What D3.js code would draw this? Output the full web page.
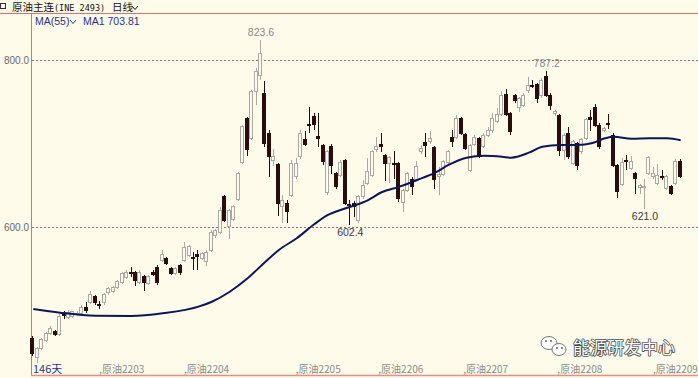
<!DOCTYPE html>
<meta charset="utf-8">
<script src="https://d3js.org/d3.v7.min.js"></script>
<style>
  body { margin: 0; background: #fefbea; }
  svg { display: block; }
</style>
<div id="chart"></div>
<script>
// 日K数据 (原油主连)
var openV = [466,444,455,464,473,475,471,497,492,493,495,497,504,510,517,507,509,521,523,528,534,540,546,545,534,541,532,546,551,560,
  562,550,544,554,560,566,564,567,562,559,572,590,594,636,601,609,633,677,730,706,762,782,760,712,680,675,624,628,638,660,
  684,705,723,732,708,698,641,696,664,662,680,627,628,608,636,652,662,693,699,686,676,676,676,629,644,657,657,690,701,702,
  695,660,663,677,707,707,730,711,668,699,706,697,710,715,726,735,759,736,757,743,746,763,770,771,757,780,758,736,733,692,
  712,676,700,690,706,731,743,722,716,724,710,674,651,680,670,664,647,648,664,660,652,660,646,648,652,679];
var highV = [469,456,467,474,481,477,496,499,501,500,499,507,510,523,519,511,521,528,529,537,546,549,552,547,548,543,543,549,554,572,
  564,552,552,556,582,579,570,572,570,572,596,598,624,638,622,626,666,722,732,764,790,823.6,775,716,693,677,638,632,680,683,
  716,715,744,736,736,700,692,700,666,680,682,632,631,638,656,683,692,708,713,688,685,691,678,646,666,660,679,698,713,715,
  697,672,680,692,716,734,732,713,700,710,708,712,720,737,742,763,765,738,759,756,760,780,776,773,779,787.2,760,740,735,712,
  720,704,702,707,731,740,747,724,720,735,712,676,683,686,685,666,652,657,685,672,675,668,662,650,682,682];
var lowV = [446,437,453,462,471,469,469,490,490,491,493,495,497,508,506,502,507,519,521,526,532,538,540,529,532,523,530,541,531,558,
  554,542,542,543,558,564,549,548,560,553,570,587,592,606,586,607,631,675,685,704,746,776,696,660,673,613,605,605,636,658,
  682,697,712,716,696,674,638,664,646,660,626,602.4,612,605,634,650,660,690,690,655,653,658,630,618,642,638,655,688,684,700,
  646,638,661,675,696,705,710,692,666,697,683,695,708,713,724,733,733,710,749,738,744,761,766,748,755,756,740,733,685,680,
  682,674,668,688,704,715,720,694,714,717,672,635,649,668,668,640,640,621.0,662,658,650,656,644,638,650,659];
var closeV = [449,455,465,472,479,471,493,494,498,499,497,504,500,519,509,506,519,526,527,535,544,546,545,536,546,533,541,543,533,567,
  556,544,550,545,576,577,562,565,568,570,594,596,620,608,620,624,664,720,693,762,786,808,700,684,684,628,632,618,676,676,
  712,699,721,723,706,678,690,674,648,677,628,626,624,636,650,666,690,696,697,676,683,675,634,644,664,648,673,694,698,706,
  657,663,678,690,702,730,712,694,698,707,685,710,715,730,735,758,735,714,751,754,758,770,768,754,775,758,746,738,692,710,
  684,702,674,705,729,729,722,696,718,723,674,642,677,679,678,658,650,649,683,664,662,659,660,640,678,661];

// MA55 读数 (K线序号, 价格)
var maIdx = [0,6,14,22,29,37,40,44,48,52,55,59,63,66,70,75,78,82,86,90,93,97,101,105,107,111,114,118,122,125,128,130,134,138,142,145];
var maVal = [501.8,497.4,493.8,493.5,496.7,504.6,510.5,522.5,538.6,558.4,572.5,586.5,603.6,614.4,622.4,632.3,641.6,648.3,656.3,665,
  674.3,683,685.4,684.2,683,689,696.2,698.2,698.2,700.2,706.2,708.1,705.7,706.2,706.2,703.81];

// 月份标签
var monthIdx = [15,34,59,77.5,96.5,117.6,139];
var monthLab = ["原油2203","原油2204","原油2205","原油2206","原油2207","原油2208","原油2209"];

// 价位网格, 极值标注
var gridVals = [800, 600];
var markIdx = [51, 71, 115, 137];
var markVal = [823.6, 602.4, 787.2, 621.0];

var W = 698, H = 378;
var cjk = "'Noto Sans CJK SC', 'Noto Sans', sans-serif";
var num = "'Liberation Sans', Arial, sans-serif";

var svg = d3.select("#chart").append("svg")
    .attr("width", W).attr("height", H)
    .style("background", "#fefbea");

var x = d3.scaleLinear().domain([0, 145]).range([33.3, 680.7]);
var y = d3.scaleLinear().domain([600, 800]).range([227, 60]);

// 顶部标题栏
svg.append("rect").attr("x", 0.5).attr("y", 3.5).attr("width", 5).attr("height", 5)
   .attr("fill", "none").attr("stroke", "#333");
var title = svg.append("text").attr("x", 12).attr("y", 10.5)
   .attr("font-family", cjk).attr("font-size", 10.5).attr("fill", "#111");
title.append("tspan").text("原油主连");
title.append("tspan").attr("font-family", "'DejaVu Sans Mono', monospace").attr("font-size", 8.5).text("(INE 2493)");
svg.append("text").attr("x", 112).attr("y", 10.5)
   .attr("font-family", cjk).attr("font-size", 10.5).attr("fill", "#111").text("日线");
svg.append("path").attr("d", "M132,6 L135,9.5 L138,6").attr("fill", "none").attr("stroke", "#111");

svg.append("line").attr("x1", 0).attr("x2", W).attr("y1", 13.5).attr("y2", 13.5)
   .attr("stroke", "#e07060").attr("stroke-width", 1);

// 坐标轴线
svg.append("line").attr("x1", 31.5).attr("x2", 31.5).attr("y1", 13).attr("y2", 376)
   .attr("stroke", "#e07060");
svg.append("line").attr("x1", 31).attr("x2", W).attr("y1", 375.5).attr("y2", 375.5)
   .attr("stroke", "#e89080").attr("stroke-width", 1.5);

// MA 说明
svg.append("text").attr("x", 35).attr("y", 24.5)
   .attr("font-family", num).attr("font-size", 10.5).attr("fill", "#27338a").text("MA(55)");
svg.append("path").attr("d", "M70,20 L73,23.5 L76,20").attr("fill", "none").attr("stroke", "#27338a");
svg.append("text").attr("x", 83).attr("y", 24.5)
   .attr("font-family", num).attr("font-size", 10.5).attr("fill", "#27338a").text("MA1 703.81");

// 网格虚线与刻度
svg.selectAll(".grid").data(gridVals).enter().append("line")
   .attr("x1", 32).attr("x2", W)
   .attr("y1", function(d) { return Math.round(y(d)) + 0.5; })
   .attr("y2", function(d) { return Math.round(y(d)) + 0.5; })
   .attr("stroke", "#c85a50").attr("stroke-dasharray", "2,2");
svg.selectAll(".ylab").data(gridVals).enter().append("text")
   .attr("x", 29).attr("y", function(d) { return y(d) + 3.5; })
   .attr("text-anchor", "end").attr("font-family", num).attr("font-size", 10)
   .attr("fill", "#6a6a6a").text(function(d) { return d.toFixed(1); });

// 月份
var mg = svg.selectAll(".month").data(monthIdx).enter().append("g");
mg.append("text")
   .attr("x", function(d) { return x(d) - 1; }).attr("y", 373)
   .attr("font-family", cjk).attr("font-size", 10).attr("fill", "#8a8a8a")
   .text(function(d, i) { return "," + monthLab[i]; });

svg.append("text").attr("x", 33).attr("y", 373)
   .attr("font-family", cjk).attr("font-size", 11).attr("fill", "#27338a").text("146天");

// K线
var idx = d3.range(openV.length);
var k = svg.append("g").attr("shape-rendering", "crispEdges");
k.selectAll(".wick").data(idx).enter().append("line")
   .attr("x1", function(i) { return Math.round(x(i)) - 0.5; })
   .attr("x2", function(i) { return Math.round(x(i)) - 0.5; })
   .attr("y1", function(i) { return y(highV[i]); })
   .attr("y2", function(i) { return y(lowV[i]); })
   .attr("stroke", function(i) { return closeV[i] >= openV[i] ? "#a8a8a8" : "#2a0c0c"; });
k.selectAll(".body").data(idx).enter().append("rect")
   .attr("x", function(i) { return Math.round(x(i)) - 2.5; })
   .attr("width", 3)
   .attr("y", function(i) { return y(Math.max(openV[i], closeV[i])); })
   .attr("height", function(i) { return Math.max(1, Math.abs(y(openV[i]) - y(closeV[i]))); })
   .attr("fill", function(i) { return closeV[i] >= openV[i] ? "#fefbea" : "#2a0c0c"; })
   .attr("stroke", function(i) { return closeV[i] >= openV[i] ? "#a8a8a8" : "#2a0c0c"; });

// MA55 线
svg.append("path")
   .datum(maIdx)
   .attr("fill", "none").attr("stroke", "#0c1656").attr("stroke-width", 2)
   .attr("d", d3.line()
      .x(function(d) { return x(d); })
      .y(function(d, i) { return y(maVal[i]); })
      .curve(d3.curveMonotoneX));

// 极值标注
svg.selectAll(".mark").data(markIdx).enter().append("text")
   .attr("x", function(d) { return x(d); })
   .attr("y", function(d, i) { return markVal[i] > 700 ? y(markVal[i]) - 4 : y(markVal[i]) + 11; })
   .attr("text-anchor", "middle").attr("font-family", num).attr("font-size", 10.5)
   .attr("fill", function(d, i) { return markVal[i] > 700 ? "#8a8a8a" : "#3a3a3a"; })
   .text(function(d, i) { return markVal[i].toFixed(1); });

// 水印
var wm = svg.append("g");
wm.append("ellipse").attr("cx", 549).attr("cy", 343).attr("rx", 8).attr("ry", 6.5)
   .attr("fill", "#fff").attr("stroke", "#777");
wm.append("ellipse").attr("cx", 559).attr("cy", 349.5).attr("rx", 7).attr("ry", 6)
   .attr("fill", "#fff").attr("stroke", "#777");
[[546,341],[551,341],[557,348],[562,348]].forEach(function(p) {
  wm.append("circle").attr("cx", p[0]).attr("cy", p[1]).attr("r", 0.9).attr("fill", "#555");
});
wm.append("text").attr("x", 573).attr("y", 354)
   .attr("font-family", cjk).attr("font-size", 17).attr("fill", "#ffffff")
   .attr("stroke", "#4a4a4a").attr("stroke-width", 1.6).attr("paint-order", "stroke")
   .attr("stroke-linejoin", "round")
   .text("能源研发中心");
</script>
